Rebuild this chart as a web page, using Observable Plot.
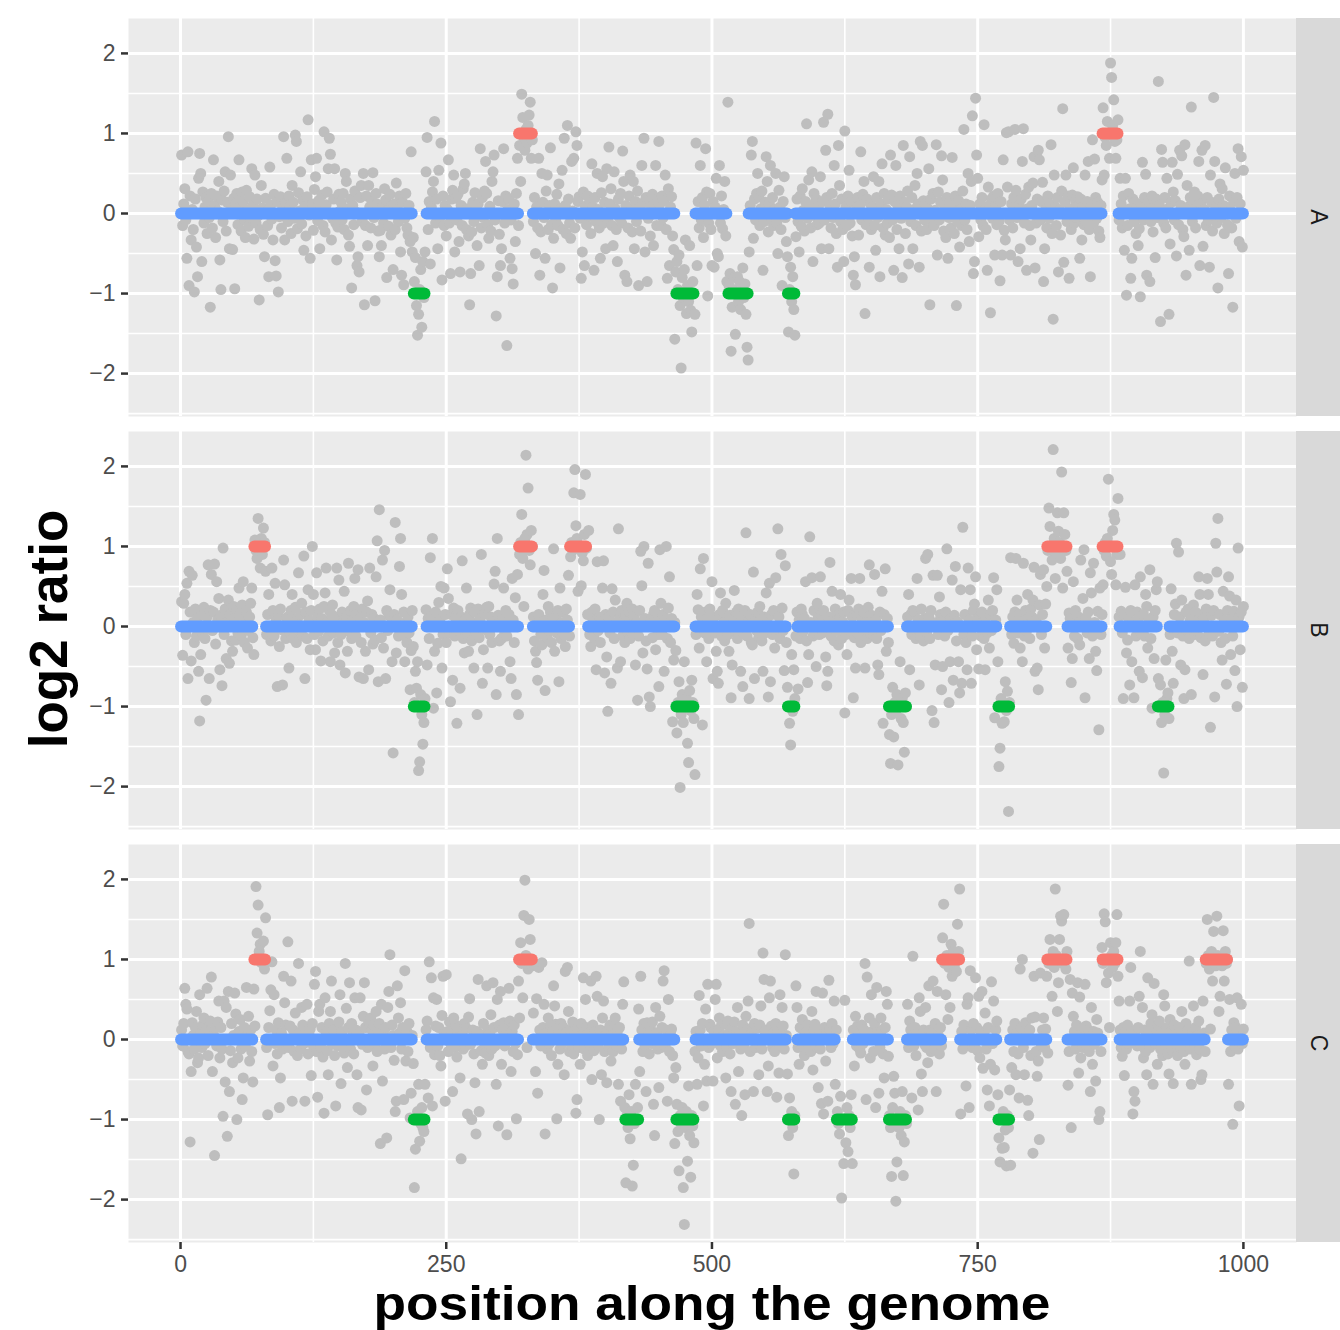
<!DOCTYPE html>
<html>
<head>
<meta charset="utf-8">
<script src="https://cdn.jsdelivr.net/npm/d3@7"></script>
<script src="https://cdn.jsdelivr.net/npm/@observablehq/plot@0.6"></script>
<style>
  body { margin: 0; background: #ffffff; }
  #chart { position: relative; width: 1340px; height: 1330px; overflow: hidden; font-family: "Liberation Sans", Arial, Helvetica, sans-serif; }
  .panel { position: absolute; left: 0; }
  .strip { position: absolute; left: 1296px; width: 44px; height: 398px; background: #D9D9D9; }
  .strip span { position: absolute; left: 50%; top: 50%; transform: translate(-50%, -50%) rotate(90deg); font-size: 23px; color: #1A1A1A; line-height: 23px; white-space: nowrap; }
  .xtitle { position: absolute; left: 0; width: 1424px; top: 1279.5px; height: 47.5px; text-align: center; font-size: 47.5px; line-height: 47.5px; font-weight: bold; color: #000; white-space: nowrap; transform: scaleX(1.12); transform-origin: 50% 50%; }
  .ytitle { position: absolute; left: 47.6px; top: 629px; transform: translate(-50%, -50%) rotate(-90deg); font-size: 53px; line-height: 53px; font-weight: bold; color: #000; white-space: nowrap; }
</style>
</head>
<body>
<div id="chart"></div>
<script>
// ---- data: log2 ratio (x100) at each genome position 1..1000 ----
const facetLabels = ["A", "B", "C"];
const xTicks = [0, 250, 500, 750, 1000];
const xMinorTicks = [125, 375, 625, 875];
const yTicks = [-2, -1, 0, 1, 2];
const yMinorTicks = [-2.5, -1.5, -0.5, 0.5, 1.5];

const ratioA = [
73,-15,12,31,-8,-56,77,-90,22,-33,5,-20,-98,18,-42,-79,44,75,50,-60,27,-12,8,20,-25,15,-5,-117,25,-18,67,10,-30,22,3,40,-58,-95,17,-10,28,52,-22,14,96,-44,48,6,-45,19,
-94,12,25,-14,67,8,-22,27,15,-8,-30,29,4,-16,21,-5,56,10,-32,48,-12,18,-3,-108,-20,35,7,-26,-54,19,2,-15,-79,58,11,-7,-33,24,-59,-78,15,-98,-4,21,-18,6,96,-33,13,69,
-10,22,8,-25,35,14,-6,98,90,-19,26,3,52,-13,17,-46,9,-28,21,117,-2,-56,67,12,-21,30,46,69,-9,16,-44,5,23,-15,102,-23,11,27,56,94,74,-33,-6,18,56,-12,-58,-17,24,3,
14,-8,25,-20,50,40,6,-27,-41,18,-93,10,-14,28,2,-65,-54,-73,20,35,-10,50,-114,-15,22,-40,35,8,-18,15,51,-5,-109,25,12,-22,-54,-21,-40,9,-12,31,17,-80,4,-16,24,-27,10,-70,
12,-20,38,5,-10,22,-48,-77,14,-89,-6,25,-18,-27,10,-35,77,-48,-30,-85,-55,-115,-152,-126,-95,-70,-142,-60,-105,-48,52,95,-20,15,-63,8,27,40,115,-12,18,-44,54,-5,88,-83,22,-15,10,-28,
5,67,-12,-75,18,29,48,-48,19,-8,24,-35,-73,10,-15,31,37,50,-20,6,-28,-114,-75,-23,14,-10,26,3,-40,12,-65,81,-18,20,-5,28,65,25,-14,-31,9,-22,40,52,73,-8,-128,-79,16,-26,
-65,-44,15,81,-12,22,-165,5,18,-56,-8,-69,-88,12,-35,25,69,-15,85,40,149,120,95,79,105,88,110,123,139,69,92,-10,20,-50,8,-18,69,-77,-23,50,14,-5,-56,28,48,-20,10,82,-14,-93,
-31,12,-8,24,-15,37,-68,6,54,-20,94,10,-25,110,18,-12,-31,65,3,69,-18,102,85,15,21,-6,-81,-48,27,-65,9,-14,22,-3,16,-25,62,8,-71,20,-10,50,5,-18,-56,26,46,-12,14,-44,
56,-8,83,12,31,-15,-40,52,6,-20,-60,18,-5,25,-12,78,40,-77,10,-85,-18,22,48,4,-23,40,-44,15,-10,28,-90,8,-22,60,13,94,-48,20,-85,-6,17,-28,9,24,-40,5,60,-15,19,90,
12,-15,22,-5,16,48,-20,-81,31,-65,8,21,-28,-45,-157,-73,-60,-95,-52,-115,-193,-80,-105,-70,-33,-125,-90,-110,-40,-121,-148,-85,-100,-126,88,-65,15,-18,60,-8,20,-30,10,81,27,-103,-12,25,-20,-65,
15,-67,8,44,-50,-54,60,-12,22,-19,5,40,-28,-85,139,-90,-75,-172,-117,-95,-80,-151,-100,-79,-110,-85,-120,-95,-68,-105,-88,-126,-167,-183,-48,10,73,90,-31,18,-8,25,50,21,-15,6,28,-71,-10,14,
71,40,-23,12,60,-8,20,-15,5,50,-12,-50,29,8,-20,-90,15,46,-5,-35,-54,-148,-95,-67,-110,-79,-120,-152,-29,18,-10,-48,22,-16,31,4,-22,15,112,-6,42,10,-18,52,-60,25,-3,18,-14,8,
-12,46,-44,15,114,-8,79,20,124,-44,10,-18,25,-5,60,12,-25,-67,85,35,-10,18,-20,-60,103,8,-15,22,54,-12,15,-28,-77,-54,-89,6,20,-27,10,77,-8,24,40,-125,-14,18,-5,-67,12,-20,
8,46,-15,-46,20,-5,40,-79,12,62,-18,25,-27,5,-12,18,-30,73,23,-8,-71,15,60,-20,10,-44,22,-6,-80,85,14,-25,8,28,-63,71,-10,20,-44,5,35,-15,50,12,-67,90,-22,85,16,-8,
12,-20,6,56,-114,18,-10,25,-15,4,86,-52,27,-8,15,72,42,-22,10,-30,20,-56,-5,14,-18,70,8,-25,22,-115,-10,16,-42,5,-15,28,105,-8,12,-20,50,-35,10,40,122,-75,-60,144,73,44,
-29,12,-8,20,-15,111,5,-20,-71,33,10,-124,18,-6,22,-52,8,-14,25,-10,-84,15,-52,67,-21,-33,101,33,102,-8,-52,12,-18,20,105,29,-5,-60,10,-44,18,65,106,-12,24,-71,6,33,-15,-33,
10,38,71,-68,-12,18,79,67,-8,15,39,-85,-44,5,-18,22,-6,12,86,-25,-132,48,8,-15,20,-73,4,-27,28,131,-61,14,48,-10,22,-81,6,-20,23,57,-12,16,-5,21,10,-56,18,-33,8,-14,
48,-10,15,65,-20,-79,8,92,-12,68,20,-6,14,-22,-30,10,42,132,48,95,85,115,100,69,188,170,110,142,90,69,92,117,-8,44,12,-18,22,-46,44,-102,-15,25,6,-81,-56,18,-10,14,-25,8,
-40,-19,-104,12,64,-8,20,49,-77,5,15,-85,-10,22,-23,8,-55,18,-5,165,10,-135,80,64,-12,20,-18,44,6,-126,-38,14,64,27,-8,16,-53,49,-14,79,10,72,-20,-29,86,-77,35,8,-46,20,
133,-10,15,27,-18,8,22,65,-65,12,79,-41,5,85,-15,20,-8,-67,48,14,-22,145,65,6,-12,-93,18,37,-5,31,10,-25,57,8,-14,-75,22,4,-18,-117,15,50,-6,20,81,-35,12,71,-42,54
];

const ratioB = [
31,-36,29,40,-10,54,-65,69,18,-43,64,5,-20,22,-12,10,-56,-118,-35,15,-8,24,-15,-92,12,77,-65,20,65,-5,18,78,-22,56,8,35,-54,14,-74,98,-10,22,-40,6,33,-46,15,-18,-31,25,
10,-17,20,-8,48,14,-12,27,56,-20,5,18,-27,-5,12,29,48,-14,-35,108,95,85,135,100,73,110,90,123,105,69,-10,15,40,-6,-18,73,20,-12,54,8,-75,14,-25,22,-4,-73,83,52,-15,10,
12,-52,-8,20,40,-15,6,24,-20,10,67,-5,15,29,-12,88,-65,18,-15,46,8,-29,20,100,40,-10,-29,67,12,-6,22,-43,10,-18,25,42,73,5,-12,20,-44,15,27,-8,-33,12,73,-20,58,-48,
-10,18,5,44,-58,12,-31,79,-6,20,-15,8,25,60,-12,15,71,-63,10,-20,22,-65,5,-31,18,32,-54,73,-8,15,-22,10,-17,62,107,-69,146,8,-14,83,-27,95,-65,20,-5,14,46,12,-44,-158,
15,130,-33,8,-12,75,110,40,-10,18,-44,5,-20,12,-8,-79,-30,20,-25,-95,-56,-77,-44,-180,-169,-85,-110,-147,-120,-90,21,-48,10,-15,86,12,110,-102,-31,18,-83,-21,30,8,50,-52,-10,48,15,-20,
72,35,-8,-94,15,-67,23,-12,10,-121,20,-5,-77,12,82,-15,-33,8,48,-10,-31,15,23,-18,5,-52,18,-8,-110,22,-14,10,90,-71,-29,16,-4,24,-52,25,-10,12,-20,6,53,69,-85,110,14,-18,
-56,-15,10,48,-8,20,-12,5,15,-44,-65,60,8,-20,36,-85,65,-110,90,105,140,85,25,110,214,115,173,95,77,120,100,12,-18,-31,-45,-67,15,5,-10,-23,40,70,-80,8,-14,25,-5,18,-20,10,
97,-31,12,-8,20,-69,48,-15,5,18,-10,-25,22,8,64,-12,87,105,95,167,196,126,110,44,100,165,51,92,82,115,190,98,15,120,-10,-25,18,6,-14,22,-54,81,-5,12,-20,8,48,82,-58,15,
-38,-106,12,-8,-71,47,18,-15,33,5,-52,122,10,-44,20,-12,6,-20,14,29,-8,18,-15,8,22,-10,12,-48,5,-92,-12,20,94,51,-33,100,10,-18,-53,79,-88,-100,8,-14,15,20,-29,6,-10,-75,
96,29,-10,15,-56,8,100,-15,23,62,-20,10,-119,-42,5,-30,-133,-95,-69,-201,-110,-85,-120,-44,-100,-90,-146,-170,-80,-105,-67,-95,-115,-185,-10,40,21,-27,72,12,-123,85,-8,18,-44,10,-15,22,-5,56,
-65,12,-8,-31,-56,-71,15,42,-12,20,5,-18,29,8,-10,-31,14,-89,-48,10,45,-6,18,-15,22,4,-56,12,-75,-8,20,117,-12,6,-90,15,-20,-23,68,-65,10,-5,18,-14,25,8,-18,-56,12,-8,
42,10,-88,54,-69,15,-10,20,-27,61,-8,122,12,-15,90,23,-5,-55,76,-20,-76,-100,-121,-148,-35,-106,-54,-90,-12,18,-78,8,-15,22,15,-6,10,56,-18,-70,-35,112,5,61,-12,20,-8,-50,29,12,
-10,62,15,-8,20,5,-38,-74,-56,12,80,-12,44,8,-18,22,-5,14,-23,10,40,-15,6,18,-108,-10,-35,20,33,-6,60,12,-89,-14,-52,16,-8,22,60,-20,10,-12,18,-52,5,-15,24,77,-8,14,
12,-10,65,8,-15,-48,-60,18,-5,44,-121,15,72,-31,10,-20,-135,-171,-110,-76,-138,-95,-105,-85,-173,-100,-44,-115,-90,-120,-157,-83,-100,12,40,-54,15,-10,20,-5,18,-15,60,8,-73,-12,22,5,-18,10,
85,-8,90,12,-15,20,-105,64,-120,-48,5,64,-10,37,15,-79,-50,8,-12,18,97,-5,-95,-44,10,58,-67,14,75,-18,6,-44,-83,46,-71,124,-10,15,-20,-54,73,8,46,-71,-12,20,28,62,-29,10,
-53,10,-12,18,5,-15,-54,12,-8,33,-27,15,-5,20,61,-114,8,46,-44,-175,-152,-90,-121,-100,-119,-69,-105,-81,-231,-95,86,-10,12,-21,18,85,33,-8,15,-27,6,-44,79,-12,20,-5,40,10,-15,22,
12,33,74,-56,8,-52,-79,27,65,-10,15,71,-27,28,50,95,148,125,100,83,221,110,60,90,142,119,105,85,193,48,142,115,95,69,-27,17,10,-70,-40,56,-12,20,5,-15,12,-23,83,8,35,96,
-89,10,-8,18,-40,67,42,-12,79,5,-31,-55,19,-129,48,-10,15,52,95,105,88,110,184,100,81,65,120,140,133,52,90,160,12,90,19,-8,-90,15,49,-33,-17,10,-73,20,-44,5,-89,52,-12,18,
10,-56,62,-8,-64,15,-12,40,25,-27,8,71,-15,-102,12,-40,20,46,56,-65,-100,-73,-120,-95,-183,-110,-42,-90,-83,-115,-10,47,-31,-71,15,28,104,-8,93,12,-48,33,-12,-90,-54,18,-5,22,-15,8,
-85,12,27,-10,18,-5,8,62,40,-14,15,-60,10,-18,22,60,40,-8,-126,14,-12,20,-88,104,68,135,-6,15,-20,-42,44,8,-15,-72,20,62,38,-35,10,-12,19,-55,33,-100,98,12,-29,18,-76,25
];

const ratioC = [
12,-8,20,64,44,38,-15,-18,-128,-40,21,5,-12,15,35,-29,-23,56,8,-10,18,27,-5,12,64,-20,10,23,78,-40,6,-145,15,-8,22,48,-23,15,-12,-96,48,-53,40,-121,60,-65,-14,20,-29,5,
58,32,-100,-23,10,25,-12,-75,-48,15,-8,65,5,29,-27,12,-15,-53,63,17,191,133,168,110,119,96,100,123,88,152,-10,-94,15,36,62,97,-33,56,-5,12,-18,21,-85,-48,8,-12,79,46,18,-8,
122,-10,17,73,-77,12,-15,33,5,-20,95,8,-12,40,18,-5,-77,10,44,-18,6,13,-45,20,-8,69,85,-15,-72,35,44,-10,15,-22,-92,52,8,-14,-44,20,35,73,-6,12,-20,-83,15,-8,22,56,
-55,10,-8,-17,95,39,-35,15,71,-12,20,5,-18,52,12,-44,-85,8,52,-88,-6,29,71,15,-63,-10,22,-5,27,12,-33,18,-8,35,-15,10,20,-130,44,-52,8,-12,15,-123,40,60,106,-10,18,5,
-26,-90,-77,67,27,8,46,-12,15,-75,86,-27,10,-15,20,-98,-67,5,-30,-185,-137,-100,-90,-56,-127,-105,-85,-110,-115,-56,12,23,-73,97,-10,77,-83,52,-19,17,50,-8,15,-20,-33,30,79,8,-77,81,
10,-15,22,-5,12,-65,27,-10,18,-22,8,15,-48,-149,5,-12,20,-8,14,-93,28,51,-6,-100,12,-18,-54,-118,10,75,-90,6,-14,-31,20,-5,-17,67,12,-20,8,31,-12,71,15,-8,-56,50,-108,18,
60,-31,12,21,-8,15,-119,5,64,23,-40,10,-15,18,-5,-99,-19,73,27,121,95,52,155,199,105,-10,88,150,125,100,92,33,94,-40,51,-67,90,12,-8,96,15,44,-118,8,-12,27,-5,18,-20,10,
67,42,19,-99,-31,10,-12,20,-5,15,-44,85,8,90,35,-15,12,-8,22,-18,5,-92,-75,14,-10,-31,20,6,77,-12,50,15,-20,8,-5,73,-50,18,-14,10,79,54,-8,-100,12,-44,27,48,-15,5,
-54,12,-10,18,-27,5,-15,20,27,-8,10,-56,15,-77,-12,44,72,-85,-179,-95,-110,-69,-124,-90,-183,-157,-105,-56,-100,-85,38,-40,79,12,-15,20,-8,-65,21,10,-18,15,-5,22,-81,-120,40,8,-12,-60,
29,-10,15,73,86,-8,12,-77,50,-15,8,13,-20,-48,-130,-35,-81,-115,-164,-95,-105,-85,-185,-231,-110,-90,-152,-58,-120,-172,-95,-108,-129,-15,10,-56,-23,55,12,-8,20,-83,-31,38,-52,69,-10,19,15,-5,
-52,10,50,69,-23,12,27,-8,18,-15,5,20,-48,-10,23,8,-18,-65,14,-5,22,-81,10,40,-40,6,-12,-95,18,-8,-69,29,12,48,145,-15,8,15,-65,20,-10,14,-5,-44,18,42,-12,108,75,10,
12,-65,-33,52,73,17,-10,8,-15,20,-72,10,-42,56,-8,40,17,-12,106,5,-43,-120,-73,-100,-90,-110,-168,-95,67,40,-10,-31,15,-5,25,12,-20,8,-12,18,-6,10,-15,35,-38,12,19,60,-10,-60,
10,-12,-80,58,-93,15,-27,8,-77,74,13,-10,20,-5,48,-56,12,-90,-105,-118,-71,-198,-100,-155,49,-129,-85,-140,-95,-110,-69,-155,12,-33,29,-8,17,10,-12,-17,18,-5,12,95,-75,78,8,27,-23,56,
10,-15,20,-85,65,8,-67,-10,27,12,-18,-48,15,60,44,-21,-95,-110,-171,-85,-46,-67,-202,-153,-100,-110,-90,-120,-65,-170,-128,-95,-105,44,-10,23,12,-73,104,-8,15,-20,8,-88,52,35,-43,-65,12,-6,
40,-10,-29,67,12,-15,8,73,-12,20,-65,60,5,-18,15,-8,127,169,95,56,105,25,90,40,119,79,110,92,100,85,144,110,188,-93,10,-12,18,-5,-58,44,52,-85,86,12,-10,20,-8,77,15,-14,
54,-23,10,60,-36,8,33,-12,-63,15,-83,-31,72,-5,48,-38,12,23,-69,-123,-153,-100,-136,-90,-135,-113,-158,-95,-110,-63,-157,-35,12,-15,20,-44,8,-18,-73,88,15,100,-10,-44,21,5,-76,-95,12,-20,
27,-142,79,28,-15,-46,-27,-125,83,-8,12,27,-10,13,79,-17,95,125,100,54,110,90,188,105,35,71,125,154,148,95,156,100,88,110,-57,-15,75,-110,58,29,10,-12,18,71,-42,53,-23,8,-10,15,
69,17,-8,12,-15,-65,40,-31,10,-6,-52,25,8,-100,-90,-15,115,95,157,147,71,100,83,15,121,105,90,110,95,121,156,79,48,12,-10,-21,15,-45,8,-12,18,-5,48,90,10,-93,-65,-77,12,-8,
15,54,110,-8,40,-23,12,-15,-44,77,8,-10,20,31,-56,70,-5,12,-31,18,23,-12,8,-20,56,42,-6,15,-18,-43,25,10,-14,-55,18,-5,12,-20,8,15,-10,35,5,-15,-31,20,-8,12,98,-12,
-56,10,42,-8,15,-19,5,23,-12,-50,-44,48,8,-15,95,150,105,88,13,110,73,135,100,92,154,105,35,54,98,92,136,73,110,95,100,-56,50,-15,12,-106,21,-8,15,52,-12,-83,10,44,-5,13
];

// segments: [start, end, level]  (level 0 = normal, 1 = gain, -1 = loss)
const segmentsA = [
  [1,218,0],[232,318,0],[332,465,0],[485,514,0],[535,571,0],[579,867,0],[883,1000,0],
  [220,230,-1],[467,483,-1],[516,534,-1],[572,578,-1],
  [319,331,1],[868,882,1]
];
const segmentsB = [
  [1,68,0],[81,218,0],[232,318,0],[332,366,0],[384,465,0],[485,570,0],[581,666,0],[684,768,0],[781,815,0],[835,867,0],[884,919,0],[931,1000,0],
  [220,230,-1],[467,483,-1],[572,578,-1],[667,683,-1],[770,780,-1],[920,930,-1],
  [70,80,1],[319,331,1],[367,382,1],[816,834,1],[868,882,1]
];
const segmentsC = [
  [1,68,0],[81,218,0],[232,318,0],[332,417,0],[432,465,0],[485,570,0],[581,616,0],[633,666,0],[684,716,0],[734,768,0],[781,815,0],[835,867,0],[884,964,0],[986,1000,0],
  [220,230,-1],[419,431,-1],[467,483,-1],[572,578,-1],[618,632,-1],[667,683,-1],[770,780,-1],
  [70,80,1],[319,331,1],[717,733,1],[816,834,1],[868,882,1],[965,985,1]
];
const levelColors = { "0": "#619CFF", "1": "#F8766D", "-1": "#00BA38" };

// ---- build ----
const positions = d3.range(1, 1001);
const xExt = d3.extent(positions);
const xPad = 0.05 * (xExt[1] - xExt[0]);
const xDomain = [xExt[0] - xPad, xExt[1] + xPad];
const allY = [...ratioA, ...ratioB, ...ratioC].map(v => v / 100);
const yExt = d3.extent(allY);
const yPad = 0.05 * (yExt[1] - yExt[0]);
const yDomain = [yExt[0] - yPad, yExt[1] + yPad];

const FONT = "'Liberation Sans', Arial, Helvetica, sans-serif";
const PANEL_H = 398;
const panelTops = [18, 431, 844];
const intFmt = d3.format("d");

function makePanel(values, segments, showX) {
  const pts = positions.map((x, i) => ({ x, y: values[i] / 100 }));
  const segs = segments.map(([a, b, l]) => ({ a, b, l }));
  const marks = [
    Plot.frame({ fill: "#EBEBEB", stroke: "none" }),
    Plot.ruleY(yMinorTicks, { stroke: "#FFFFFF", strokeWidth: 1.6 }),
    Plot.ruleX(xMinorTicks, { stroke: "#FFFFFF", strokeWidth: 1.6 }),
    Plot.ruleY(yTicks, { stroke: "#FFFFFF", strokeWidth: 3 }),
    Plot.ruleX(xTicks, { stroke: "#FFFFFF", strokeWidth: 3 }),
    Plot.dot(pts, { x: "x", y: "y", r: 5.5, fill: "#BEBEBE", stroke: "none" })
  ];
  for (const lvl of [0, -1, 1]) {
    marks.push(Plot.ruleY(segs.filter(d => d.l === lvl), {
      y: "l", x1: "a", x2: "b",
      stroke: levelColors[String(lvl)], strokeWidth: 12, strokeLinecap: "round"
    }));
  }
  marks.push(Plot.axisY({ ticks: yTicks, tickFormat: intFmt, tickSize: 7, tickPadding: 6, stroke: "#333333", strokeWidth: 2.5, fill: "#4D4D4D", fontSize: 23, label: null }));
  if (showX) {
    marks.push(Plot.axisX({ ticks: xTicks, tickFormat: intFmt, tickSize: 7, tickPadding: 6, stroke: "#333333", strokeWidth: 2.5, fill: "#4D4D4D", fontSize: 23, label: null }));
  }
  return Plot.plot({
    width: 1296,
    height: showX ? PANEL_H + 40 : PANEL_H,
    marginLeft: 128, marginRight: 0, marginTop: 0, marginBottom: showX ? 40 : 0,
    x: showX ? { domain: xDomain } : { domain: xDomain, axis: null },
    y: { domain: yDomain },
    style: { background: "transparent", fontFamily: FONT, overflow: "visible" },
    marks
  });
}

const chart = document.getElementById("chart");
const datasets = [ratioA, ratioB, ratioC];
const segsets = [segmentsA, segmentsB, segmentsC];
facetLabels.forEach((lab, i) => {
  const svg = makePanel(datasets[i], segsets[i], i === 2);
  const wrap = document.createElement("div");
  wrap.className = "panel";
  wrap.style.top = panelTops[i] + "px";
  wrap.appendChild(svg);
  chart.appendChild(wrap);
  const strip = document.createElement("div");
  strip.className = "strip";
  strip.style.top = panelTops[i] + "px";
  const sp = document.createElement("span");
  sp.textContent = lab;
  strip.appendChild(sp);
  chart.appendChild(strip);
});

const xt = document.createElement("div");
xt.className = "xtitle";
xt.textContent = "position along the genome";
chart.appendChild(xt);
const yt = document.createElement("div");
yt.className = "ytitle";
yt.textContent = "log2 ratio";
chart.appendChild(yt);
</script>
</body>
</html>
